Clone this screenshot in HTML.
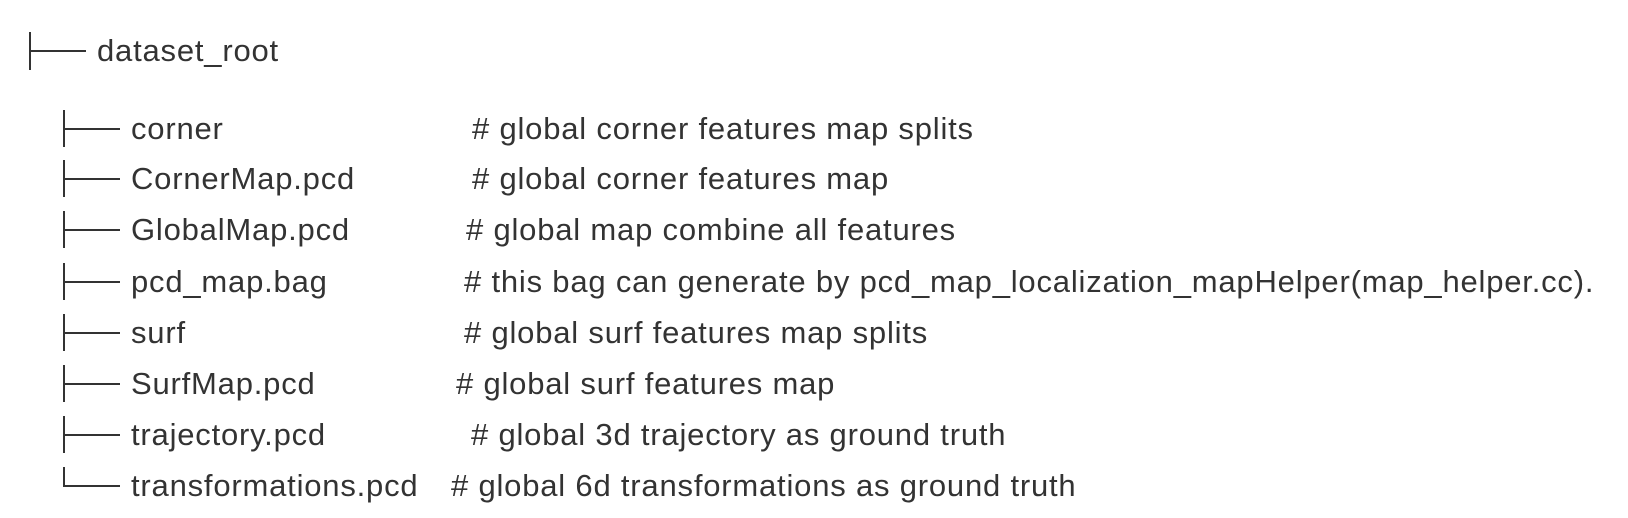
<!DOCTYPE html>
<html><head><meta charset="utf-8"><style>
html,body{margin:0;padding:0;background:#fff;}
body{width:1628px;height:518px;position:relative;overflow:hidden;font-family:"Liberation Sans","DejaVu Sans",sans-serif;color:#333;}
.t{position:absolute;font-size:31px;line-height:36px;height:36px;white-space:nowrap;letter-spacing:0.8px;}
.v{position:absolute;width:2px;background:#333;}
.h{position:absolute;height:2px;background:#333;}
</style></head><body>
<div class="v" style="left:29px;top:32px;height:38px"></div>
<div class="h" style="left:29px;top:50px;width:57px"></div>
<div class="t" style="left:97px;top:33px">dataset_root</div>

<div class="v" style="left:63px;top:110px;height:37px"></div><div class="h" style="left:63px;top:128px;width:57px"></div>
<div class="t" style="left:131px;top:111px">corner</div><div class="t" style="left:472px;top:111px"># global corner features map splits</div>

<div class="v" style="left:63px;top:160px;height:37px"></div><div class="h" style="left:63px;top:178px;width:57px"></div>
<div class="t" style="left:131px;top:161px">CornerMap.pcd</div><div class="t" style="left:472px;top:161px"># global corner features map</div>

<div class="v" style="left:63px;top:211px;height:37px"></div><div class="h" style="left:63px;top:229px;width:57px"></div>
<div class="t" style="left:131px;top:212px">GlobalMap.pcd</div><div class="t" style="left:466px;top:212px"># global map combine all features</div>

<div class="v" style="left:63px;top:263px;height:37px"></div><div class="h" style="left:63px;top:281px;width:57px"></div>
<div class="t" style="left:131px;top:264px">pcd_map.bag</div><div class="t" style="left:464px;top:264px"># this bag can generate by pcd_map_localization_mapHelper(map_helper.cc).</div>

<div class="v" style="left:63px;top:314px;height:37px"></div><div class="h" style="left:63px;top:332px;width:57px"></div>
<div class="t" style="left:131px;top:315px">surf</div><div class="t" style="left:464px;top:315px"># global surf features map splits</div>

<div class="v" style="left:63px;top:365px;height:37px"></div><div class="h" style="left:63px;top:383px;width:57px"></div>
<div class="t" style="left:131px;top:366px">SurfMap.pcd</div><div class="t" style="left:456px;top:366px"># global surf features map</div>

<div class="v" style="left:63px;top:416px;height:37px"></div><div class="h" style="left:63px;top:434px;width:57px"></div>
<div class="t" style="left:131px;top:417px">trajectory.pcd</div><div class="t" style="left:471px;top:417px"># global 3d trajectory as ground truth</div>

<div class="v" style="left:63px;top:467px;height:20px"></div><div class="h" style="left:63px;top:485px;width:57px"></div>
<div class="t" style="left:131px;top:468px">transformations.pcd</div><div class="t" style="left:451px;top:468px"># global 6d transformations as ground truth</div>
</body></html>
